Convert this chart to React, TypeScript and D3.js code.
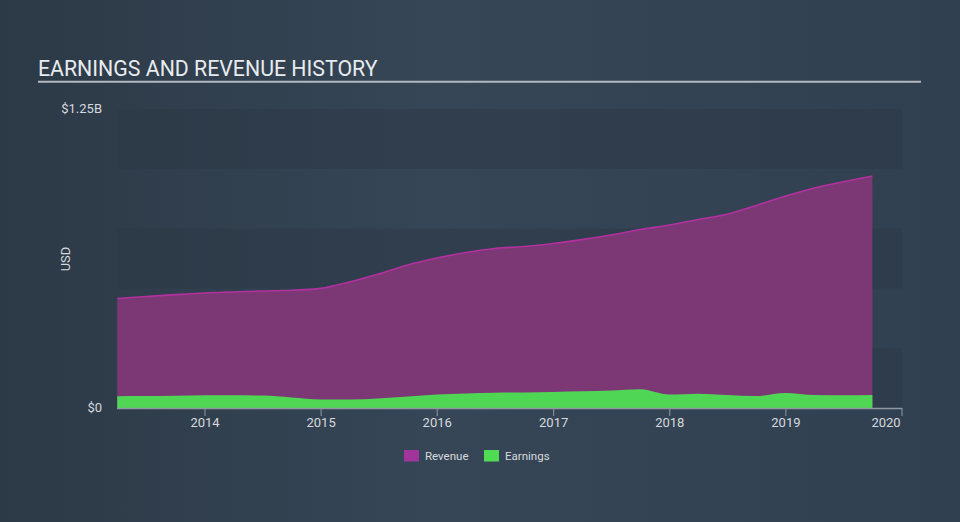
import React from "react";
import * as d3 from "d3";

const quarters: string[] = [
  "2013-03-31","2013-06-30","2013-09-30","2013-12-31",
  "2014-03-31","2014-06-30","2014-09-30","2014-12-31",
  "2015-03-31","2015-06-30","2015-09-30","2015-12-31",
  "2016-03-31","2016-06-30","2016-09-30","2016-12-31",
  "2017-03-31","2017-06-30","2017-09-30","2017-12-31",
  "2018-03-31","2018-06-30","2018-09-30","2018-12-31",
  "2019-03-31","2019-06-30","2019-09-30",
];
const revenue: number[] = [
  0.458, 0.466, 0.474, 0.481, 0.485, 0.489, 0.492, 0.5, 0.527, 0.56, 0.598, 0.627,
  0.65, 0.667, 0.675, 0.688, 0.704, 0.723, 0.746, 0.765, 0.788, 0.81, 0.847, 0.886,
  0.92, 0.946, 0.97,
];
const earnings: number[] = [
  0.049, 0.05, 0.051, 0.053, 0.053, 0.052, 0.044, 0.036, 0.036, 0.04, 0.048, 0.056,
  0.061, 0.064, 0.065, 0.067, 0.07, 0.073, 0.078, 0.056, 0.06, 0.054, 0.05, 0.063,
  0.054, 0.053, 0.054,
];
const yearTicks: number[] = [2014, 2015, 2016, 2017, 2018, 2019, 2020];
const yTickLabels: { v: number; label: string }[] = [
  { v: 0, label: "$0" },
  { v: 1.25, label: "$1.25B" },
];
const legendItems = [
  { name: "Revenue", color: "#a2359b" },
  { name: "Earnings", color: "#4fdc54" },
];

const W = 960;
const H = 522;
const left = 117;
const right = 902;
const top = 109;
const bottom = 408;

export default function App() {
  const parse = d3.timeParse("%Y-%m-%d");
  const dates = quarters.map((q) => parse(q) as Date);
  const x = d3
    .scaleTime()
    .domain([new Date(2014, 0, 1), new Date(2020, 0, 1)])
    .range([205, right]);
  const y = d3.scaleLinear().domain([0, 1.25]).range([bottom, top]);

  const revArea = d3
    .area<number>()
    .x((_, i) => x(dates[i]))
    .y0(y(0))
    .y1((d) => y(d))
    .curve(d3.curveMonotoneX);
  const revLine = d3
    .line<number>()
    .x((_, i) => x(dates[i]))
    .y((d) => y(d))
    .curve(d3.curveMonotoneX);
  const earnArea = d3
    .area<number>()
    .x((_, i) => x(dates[i]))
    .y0(y(0))
    .y1((d) => y(d))
    .curve(d3.curveMonotoneX);

  const bandEdges = d3.range(0, 6).map((i) => top + ((bottom - top) / 5) * i);
  const bands = [0, 2, 4].map((i) => ({ y0: bandEdges[i], y1: bandEdges[i + 1] }));

  const font = "Roboto, 'Open Sans', sans-serif";

  return (
    <svg
      width={W}
      height={H}
      style={{ position: "absolute", left: 0, top: 0, display: "block" }}
      fontFamily={font}
    >
      <defs>
        <linearGradient id="bg" x1="0" y1="0" x2="1" y2="0">
          <stop offset="0" stopColor="#2c3947" />
          <stop offset="0.45" stopColor="#364656" />
          <stop offset="1" stopColor="#314050" />
        </linearGradient>
      </defs>
      <rect x={0} y={0} width={W} height={H} fill="url(#bg)" />
      <text x={38} y={76} fontSize={21.3} fill="#e8ebee">
        EARNINGS AND REVENUE HISTORY
      </text>
      <line x1={38} x2={921} y1={81.7} y2={81.7} stroke="#b3b9c0" strokeWidth={2} />

      {bands.map((b, i) => (
        <rect
          key={i}
          x={left}
          y={b.y0}
          width={right - left}
          height={b.y1 - b.y0}
          fill="#2b3947"
          opacity={0.55}
        />
      ))}

      <path d={revArea(revenue) || ""} fill="#7b3875" />
      <path d={revLine(revenue) || ""} fill="none" stroke="#b3309f" strokeWidth={1.6} />
      <path d={earnArea(earnings) || ""} fill="#50d655" />

      <line x1={left} x2={right} y1={bottom + 0.5} y2={bottom + 0.5} stroke="#8f99a5" strokeWidth={1.5} />
      {yearTicks.map((t) => {
        const xp = x(new Date(t, 0, 1));
        return (
          <g key={t}>
            <line x1={xp} x2={xp} y1={bottom} y2={bottom + 8} stroke="#8f99a5" strokeWidth={1} />
            <text x={t === 2020 ? xp - 16 : xp} y={426.5} fontSize={13} fill="#d6dade" textAnchor="middle">
              {t}
            </text>
          </g>
        );
      })}

      {yTickLabels.map((t) => (
        <text
          key={t.label}
          x={102}
          y={y(t.v) + 4}
          fontSize={13}
          fill="#d6dade"
          textAnchor="end"
        >
          {t.label}
        </text>
      ))}
      <text
        x={0}
        y={0}
        fontSize={13}
        fill="#d6dade"
        textAnchor="middle"
        transform={`translate(69.5,259) rotate(-90)`}
      >
        USD
      </text>

      {legendItems.map((l, i) => {
        const lx = 404 + i * 80;
        return (
          <g key={l.name}>
            <rect x={lx} y={450} width={15} height={11.5} fill={l.color} />
            <text x={lx + 21} y={460} fontSize={11.5} fill="#d6dade">
              {l.name}
            </text>
          </g>
        );
      })}
    </svg>
  );
}
